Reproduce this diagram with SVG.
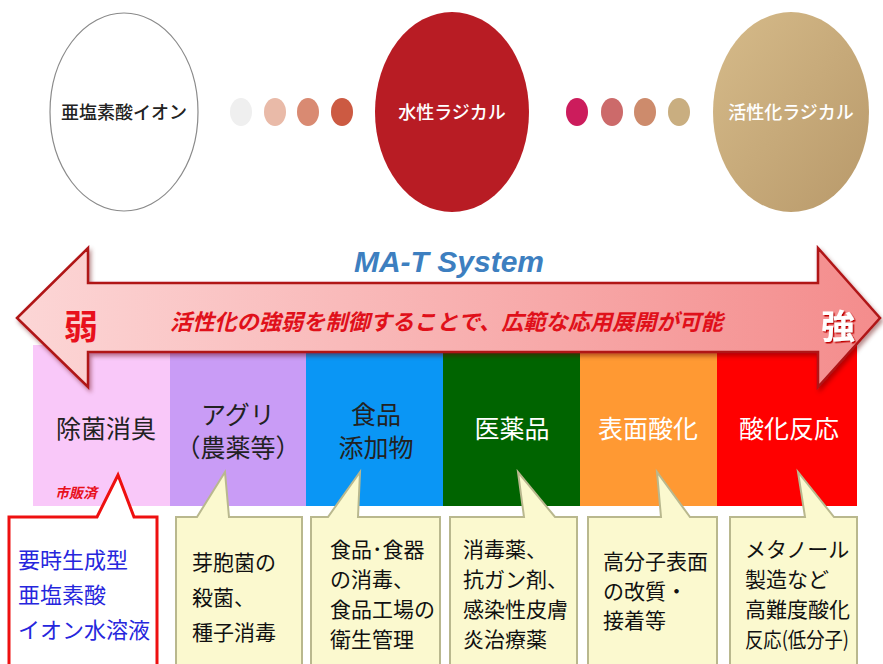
<svg xmlns="http://www.w3.org/2000/svg" width="883" height="664" viewBox="0 0 883 664">
<defs>
<linearGradient id="gold" x1="0" y1="0" x2="1" y2="1">
<stop offset="0" stop-color="#d6bb8a"/><stop offset="1" stop-color="#b8996a"/>
</linearGradient>
<linearGradient id="arrowFill" x1="0" y1="0" x2="1" y2="0">
<stop offset="0" stop-color="#fcd6d6"/><stop offset="1" stop-color="#f48c8c"/>
</linearGradient>
<filter id="sh" x="-5%" y="-10%" width="110%" height="130%">
<feDropShadow dx="2" dy="3" stdDeviation="2" flood-color="#600000" flood-opacity="0.45"/>
</filter>
<filter id="tsh" x="-20%" y="-20%" width="140%" height="140%">
<feDropShadow dx="1.5" dy="1.5" stdDeviation="0.6" flood-color="#c00000" flood-opacity="1"/>
</filter>
</defs>
<style>
text{font-family:"Noto Sans CJK JP","Noto Sans",sans-serif;}
.lbl{font-size:18px;text-anchor:middle;font-weight:500;}
.cat{font-size:25px;text-anchor:middle;}
.call{fill:#fbf9cf;stroke:#b9b88e;stroke-width:2;}
.ct{font-size:21px;fill:#111;}
</style>
<rect width="883" height="664" fill="#fff"/>

<g id="node-chlorite">
<ellipse cx="124" cy="112" rx="74" ry="99" fill="#fff" stroke="#8a8a8a" stroke-width="1.2"/>
<text class="lbl" x="124" y="119" fill="#222">亜塩素酸イオン</text>
</g>
<g id="dots-left">
<ellipse cx="241" cy="112" rx="11" ry="14" fill="#efefef"/>
<ellipse cx="275" cy="112" rx="11" ry="14" fill="#e9baa8"/>
<ellipse cx="308" cy="112" rx="11" ry="14" fill="#d98a72"/>
<ellipse cx="342" cy="112" rx="11" ry="14" fill="#cc5a42"/>
</g>
<g id="node-aqueous">
<ellipse cx="452" cy="112" rx="77" ry="100" fill="#b81c24"/>
<text class="lbl" x="452" y="119" fill="#fff">水性ラジカル</text>
</g>
<g id="dots-right">
<ellipse cx="577" cy="112" rx="11" ry="14" fill="#cc1c5c"/>
<ellipse cx="612" cy="112" rx="11" ry="14" fill="#cc6a6a"/>
<ellipse cx="645" cy="112" rx="11" ry="14" fill="#cd8b6c"/>
<ellipse cx="679" cy="112" rx="11" ry="14" fill="#c9ae80"/>
</g>
<g id="node-activated">
<ellipse cx="791" cy="112" rx="78" ry="100" fill="url(#gold)"/>
<text class="lbl" x="791" y="119" fill="#fff">活性化ラジカル</text>
</g>

<text x="449" y="272" font-size="30" font-weight="bold" font-style="italic" fill="#3d7fc0" text-anchor="middle" style="font-family:'Liberation Sans',Arial,sans-serif">MA-T System</text>

<g id="band">
<rect x="33" y="345" width="137" height="161" fill="#f9c8f9"/>
<rect x="170" y="345" width="136" height="161" fill="#c99cf6"/>
<rect x="306" y="345" width="137" height="161" fill="#0a96f5"/>
<rect x="443" y="345" width="137" height="161" fill="#006400"/>
<rect x="580" y="345" width="137" height="161" fill="#ff9933"/>
<rect x="717" y="345" width="140" height="161" fill="#ff0000"/>
</g>

<g id="arrow">
<polygon points="17,318 88,248 88,283 818,283 818,248 880,318 818,387 818,352 88,352 88,387" fill="url(#arrowFill)" stroke="#b01418" stroke-width="2.5" stroke-linejoin="miter" filter="url(#sh)"/>
<text x="81" y="339" font-size="34" font-weight="bold" fill="#e8101c" text-anchor="middle">弱</text>
<text x="838" y="339" font-size="34" font-weight="bold" fill="#fff" text-anchor="middle" filter="url(#tsh)">強</text>
<text x="170" y="330" font-size="22" font-style="italic" font-weight="bold" fill="#e0101a" textLength="553" lengthAdjust="spacingAndGlyphs">活性化の強弱を制御することで、広範な応用展開が可能</text>
</g>

<g id="cat-labels">
<text class="cat" x="106" y="438" fill="#222">除菌消臭</text>
<text class="cat" x="238" y="424" fill="#222">アグリ</text>
<text class="cat" x="238" y="457" fill="#222">（農薬等）</text>
<text class="cat" x="376" y="424" fill="#222">食品</text>
<text class="cat" x="376" y="457" fill="#222">添加物</text>
<text class="cat" x="512" y="438" fill="#fff">医薬品</text>
<text class="cat" x="648" y="438" fill="#fff">表面酸化</text>
<text class="cat" x="789" y="438" fill="#fff">酸化反応</text>
</g>

<text x="76" y="498" font-size="14" font-weight="bold" font-style="italic" fill="#e8101c" text-anchor="middle">市販済</text>

<g id="callout-1">
<path d="M9,517 H97 L118,475 L134,517 H157 V672 H9 Z" fill="#fff" stroke="#ee1010" stroke-width="3"/>
<text font-size="22" fill="#2626dd"><tspan x="18" y="568">要時生成型</tspan><tspan x="18" y="603">亜塩素酸</tspan><tspan x="18" y="638">イオン水溶液</tspan></text>
</g>
<g id="callout-2">
<path class="call" d="M176,517 H197 L225,472 L229,517 H302 V672 H176 Z"/>
<text class="ct" font-size="22"><tspan x="192" y="570">芽胞菌の</tspan><tspan x="192" y="605">殺菌、</tspan><tspan x="192" y="640">種子消毒</tspan></text>
</g>
<g id="callout-3">
<path class="call" d="M311,517 H328 L360,472 L358,517 H440 V672 H311 Z"/>
<text class="ct"><tspan x="330" y="557">食品･食器</tspan><tspan x="330" y="587">の消毒、</tspan><tspan x="330" y="617">食品工場の</tspan><tspan x="330" y="647">衛生管理</tspan></text>
</g>
<g id="callout-4">
<path class="call" d="M450,517 H524 L518,472 L555,517 H577 V672 H450 Z"/>
<text class="ct"><tspan x="463" y="557">消毒薬、</tspan><tspan x="463" y="587">抗ガン剤、</tspan><tspan x="463" y="617">感染性皮膚</tspan><tspan x="463" y="647">炎治療薬</tspan></text>
</g>
<g id="callout-5">
<path class="call" d="M588,517 H661 L657,472 L690,517 H717 V672 H588 Z"/>
<text class="ct"><tspan x="603" y="569">高分子表面</tspan><tspan x="603" y="599">の改質・</tspan><tspan x="603" y="628">接着等</tspan></text>
</g>
<g id="callout-6">
<path class="call" d="M730,517 H805 L798,472 L834,517 H857 V672 H730 Z"/>
<text class="ct"><tspan x="745" y="557">メタノール</tspan><tspan x="745" y="587">製造など</tspan><tspan x="745" y="617">高難度酸化</tspan><tspan x="745" y="647" textLength="104" lengthAdjust="spacingAndGlyphs">反応(低分子)</tspan></text>
</g>
</svg>
